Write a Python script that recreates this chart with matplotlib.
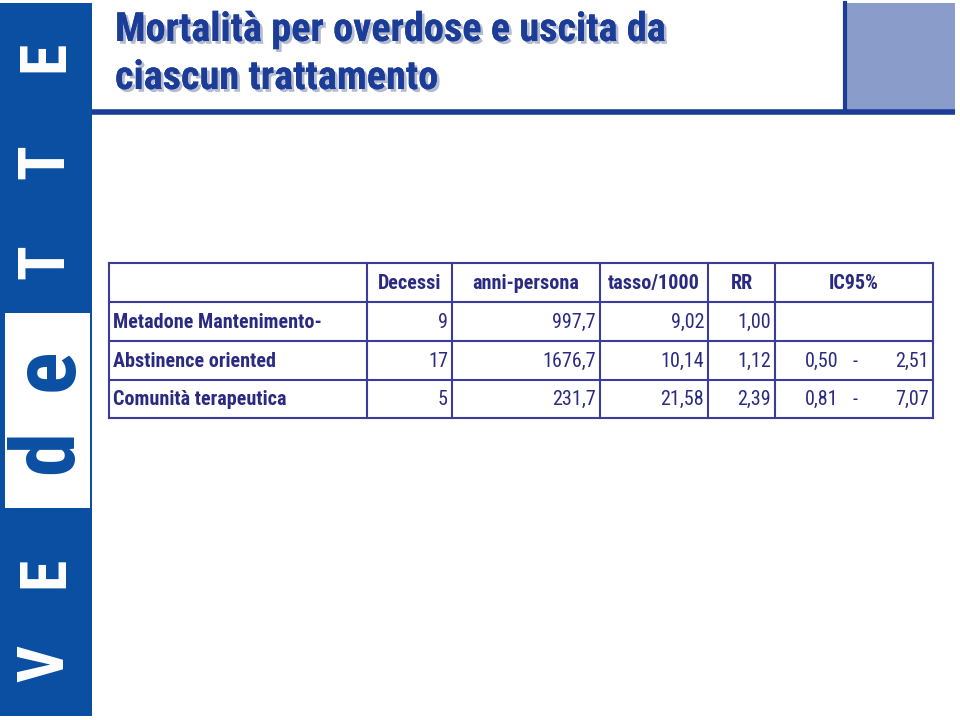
import matplotlib
matplotlib.use("Agg")
import matplotlib.pyplot as plt
import matplotlib.patheffects as pe
from matplotlib.patches import Rectangle

# ─── data ────────────────────────────────────────────────────────────────
TITLE_LINES = ["Mortalità per overdose e uscita da", "ciascun trattamento"]
HEADERS     = ["", "Decessi", "anni-persona", "tasso/1000", "RR", "IC95%"]
ROW_LABELS  = ["Metadone Mantenimento-", "Abstinence oriented", "Comunità terapeutica"]
DECESSI     = ["9", "17", "5"]
ANNI_PERS   = ["997,7", "1676,7", "231,7"]
TASSO       = ["9,02", "10,14", "21,58"]
RR          = ["1,00", "1,12", "2,39"]
IC_LOW      = ["", "0,50", "0,81"]
IC_HIGH     = ["", "2,51", "7,07"]
LOGO        = ["V", "E", "d", "e", "T", "T", "E"]   # read bottom to top

# ─── style / layout ──────────────────────────────────────────────────────
FONT       = ["Roboto Condensed", "Liberation Sans", "DejaVu Sans"]
BAND_BLUE  = "#0b4fa3"
TITLE_BLUE = "#1b3c97"
TEXT_BLUE  = "#2a2a82"
LINE_BLUE  = "#3c3c9c"
LIGHT_BOX  = "#8a9dca"

COL_X  = [109, 367, 452, 600, 708, 775, 933]   # column edges (px)
ROW_Y  = [263, 302, 341, 380, 418]             # row edges (px)
LOGO_Y = [664, 572, 452, 370, 262, 162, 56]
PAD    = 4

fig = plt.figure(figsize=(9.6, 7.2), dpi=100)
ax = fig.add_axes([0, 0, 1, 1])
ax.set_xlim(0, 960)
ax.set_ylim(720, 0)
ax.axis("off")

# left logo band
ax.add_patch(Rectangle((0, 3), 92, 713, color=BAND_BLUE, lw=0))
ax.add_patch(Rectangle((5, 313), 85, 195, color="white", lw=0))
for ch, y in zip(LOGO, LOGO_Y):
    lower = ch.islower()
    ax.text(48 if lower else 46, y, ch, rotation=90, ha="center", va="center",
            fontsize=64 if lower else 46,
            color=BAND_BLUE if lower else "white",
            fontweight="bold", family=FONT)

# top-right box and header rule
ax.add_patch(Rectangle((843, 3), 112, 107, facecolor=LIGHT_BOX, lw=0))
ax.plot([844.5, 844.5], [3, 110], color=TITLE_BLUE, lw=3)
ax.plot([92, 955], [112, 112], color=TITLE_BLUE, lw=4, solid_capstyle="butt")

# title with shadow
shadow = [pe.withSimplePatchShadow(offset=(2, -2), shadow_rgbFace="#b4bbd0",
                                   alpha=1.0), pe.Normal()]
for line, y in zip(TITLE_LINES, [41, 89]):
    ax.text(115, y, line, ha="left", va="baseline", fontsize=29,
            fontweight="bold", color=TITLE_BLUE, family=FONT,
            path_effects=shadow)

# table grid
for x in COL_X:
    ax.plot([x, x], [ROW_Y[0], ROW_Y[-1]], color=LINE_BLUE, lw=1.5)
for y in ROW_Y:
    ax.plot([COL_X[0], COL_X[-1]], [y, y], color=LINE_BLUE, lw=1.5)

def base(i):
    return ROW_Y[i + 1] - 13

txt = dict(fontsize=14.5, color=TEXT_BLUE, family=FONT, va="baseline")

# header
for j, h in enumerate(HEADERS):
    if h:
        ax.text((COL_X[j] + COL_X[j + 1]) / 2, base(0), h, ha="center",
                fontweight="bold", **txt)

# body
cols = [DECESSI, ANNI_PERS, TASSO, RR]
for i, label in enumerate(ROW_LABELS):
    y = base(i + 1)
    ax.text(COL_X[0] + PAD, y, label, ha="left", fontweight="bold", **txt)
    for j, col in enumerate(cols):
        ax.text(COL_X[j + 2] - PAD, y, col[i], ha="right", **txt)
    if IC_LOW[i]:
        ax.text(COL_X[5] + 30, y, IC_LOW[i], ha="left", **txt)
        ax.text(COL_X[5] + 80, y, "-", ha="center", **txt)
        ax.text(COL_X[6] - PAD, y, IC_HIGH[i], ha="right", **txt)

fig.savefig("out.png", dpi=100)
